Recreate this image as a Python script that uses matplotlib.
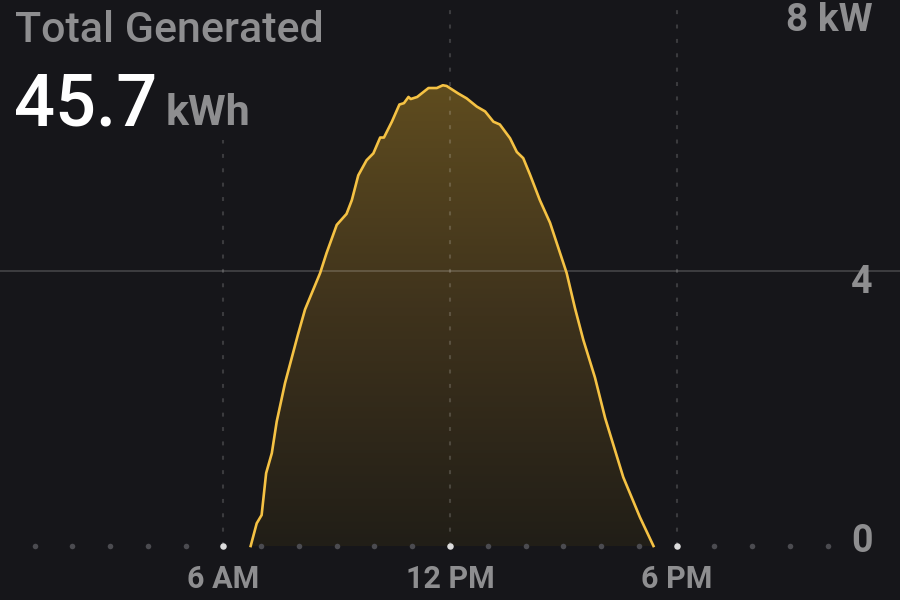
import numpy as np
import matplotlib
matplotlib.use("Agg")
import matplotlib.pyplot as plt
from matplotlib.colors import LinearSegmentedColormap

# solar output over the day (hours, kW)
hours = [6.72, 6.88, 7.01, 7.13, 7.28, 7.41, 7.63, 7.97, 8.16, 8.56,
         8.73, 9.00, 9.26, 9.40, 9.57, 9.79, 9.97, 10.15, 10.25, 10.46,
         10.66, 10.78, 10.90, 10.96, 11.13, 11.43, 11.65, 11.81, 11.91, 12.22,
         12.44, 12.71, 12.93, 13.15, 13.32, 13.59, 13.77, 13.94, 14.12, 14.38,
         14.65, 15.09, 15.31, 15.53, 15.84, 16.11, 16.59, 17.03, 17.39]
power_kw = [0.00, 0.33, 0.45, 1.06, 1.35, 1.81, 2.37, 3.07, 3.44, 3.97,
            4.26, 4.67, 4.83, 5.03, 5.39, 5.61, 5.71, 5.94, 5.94, 6.17,
            6.42, 6.44, 6.53, 6.50, 6.53, 6.66, 6.66, 6.70, 6.69, 6.58,
            6.51, 6.39, 6.32, 6.17, 6.13, 5.93, 5.73, 5.64, 5.40, 5.03,
            4.70, 3.97, 3.46, 3.00, 2.45, 1.86, 1.00, 0.42, 0.00]

dot_hours = list(range(1, 23))
major_hours = [6, 12, 18]
major_labels = ["6 AM", "12 PM", "6 PM"]
y_ticks = [0, 4]
y_tick_labels = ["0", "4"]
title = "Total Generated"
total = "45.7"
total_unit = "kWh"
top_label = "8 kW"

bg = "#16161a"
yellow = "#f5c244"
grey_txt = "#8e8e90"

plt.rcParams['font.family'] = ['Roboto', 'DejaVu Sans']

fig = plt.figure(figsize=(9, 6), dpi=100, facecolor=bg)
ax = fig.add_axes([0, 0, 1, 1])
ax.set_facecolor(bg)
ax.axis("off")

# gridlines
ax.axhline(4, color="white", alpha=0.17, lw=1.4, zorder=3)
for h in major_hours:
    top = 5.9 if h == 6 else 8
    ax.plot([h, h], [0, top], color="white", alpha=0.16, lw=1.5,
            linestyle=(0, (1.9, 5.0)), zorder=3)

# gradient fill under the curve
fill = ax.fill_between(hours, power_kw, 0, color="none", lw=0)
cmap = LinearSegmentedColormap.from_list("sun", ["#211e17", "#3e321c", "#5f4c1f"])
grad = np.linspace(0, 1, 256).reshape(-1, 1)
img = ax.imshow(grad, cmap=cmap, origin="lower", aspect="auto",
                extent=[hours[0], hours[-1], 0, max(power_kw)], zorder=2)
img.set_clip_path(fill.get_paths()[0], transform=ax.transData)
ax.set_xlim(0.08, 23.92)
ax.set_ylim(-0.785, 7.94)

ax.plot(hours, power_kw, color=yellow, lw=1.9, zorder=5, solid_joinstyle="round")

# hour dots along the baseline
minor = [h for h in dot_hours if h not in major_hours]
ax.scatter(minor, [0] * len(minor), s=16, color="#4b4b50", zorder=6, lw=0)
ax.scatter(major_hours, [0] * len(major_hours), s=22, color="#dcdcdc", zorder=6, lw=0)

# x labels
for h, lab in zip(major_hours, major_labels):
    ax.text(h, 0.02, lab, transform=ax.get_xaxis_transform(), ha="center",
            va="baseline", fontsize=22, fontweight="bold", color=grey_txt)

# y labels (right side)
ytf = ax.get_yaxis_transform()
ax.text(873 / 900, 3.68, y_tick_labels[1], transform=ytf,
        ha="right", va="baseline", fontsize=27, fontweight="bold", color=grey_txt)
ax.text(873 / 900, -0.087, y_tick_labels[0], transform=ytf,
        ha="right", va="baseline", fontsize=27, fontweight="bold", color=grey_txt)
ax.text(873 / 900, 7.49, top_label, transform=ytf,
        ha="right", va="baseline", fontsize=28, fontweight="bold", color=grey_txt)

# header
fig.text(15 / 900, 1 - 42 / 600, title, ha="left", va="baseline",
         fontsize=31, fontweight="medium", color=grey_txt)
fig.text(14 / 900, 1 - 125 / 600, total, ha="left", va="baseline",
         fontsize=52, fontweight="medium", color="white")
fig.text(166 / 900, 1 - 125 / 600, total_unit, ha="left", va="baseline",
         fontsize=31, fontweight="bold", color=grey_txt)

fig.savefig("out.png", dpi=100, facecolor=bg)
